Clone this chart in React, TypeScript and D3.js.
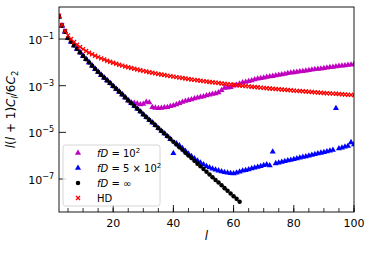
import * as d3 from "d3";

// multipole index l for each series
const ellFull = d3.range(2, 101);
const ellInf = d3.range(2, 63);

// fD = 1e2 (magenta triangles)
const fd100 = [
  0.912, 0.372, 0.204, 0.112, 0.0759, 0.0525, 0.0372, 0.0263, 0.0186, 0.0135,
  0.00977, 0.00708, 0.00525, 0.00389, 0.00288, 0.00219, 0.00166, 0.00126, 9.55e-4, 7.24e-4,
  5.5e-4, 4.17e-4, 3.09e-4, 2.34e-4, 1.91e-4, 1.82e-4, 1.74e-4, 1.58e-4, 1.66e-4, 2.0e-4,
  1.91e-4, 1.2e-4, 1.12e-4, 1.07e-4, 1.1e-4, 1.15e-4, 1.2e-4, 1.32e-4, 1.41e-4, 1.58e-4,
  1.78e-4, 2.0e-4, 2.19e-4, 2.4e-4, 2.57e-4, 2.82e-4, 3.02e-4, 3.24e-4, 3.47e-4, 3.8e-4,
  4.07e-4, 4.37e-4, 4.68e-4, 5.13e-4, 6.31e-4, 7.94e-4, 8.13e-4, 8.51e-4, 1.0e-3, 1.07e-3,
  1.2e-3, 1.38e-3, 1.45e-3, 1.55e-3, 1.66e-3, 1.86e-3, 2.0e-3, 2.09e-3, 2.19e-3, 2.34e-3,
  2.45e-3, 2.57e-3, 2.75e-3, 2.88e-3, 3.02e-3, 3.16e-3, 3.39e-3, 3.55e-3, 3.72e-3, 3.89e-3,
  4.07e-3, 4.17e-3, 4.37e-3, 4.57e-3, 4.79e-3, 5.01e-3, 5.25e-3, 5.37e-3, 5.62e-3, 5.89e-3,
  6.17e-3, 6.31e-3, 6.61e-3, 6.92e-3, 7.08e-3, 7.41e-3, 7.76e-3, 7.94e-3, 8.32e-3,
];

// fD = 5e2 (blue triangles)
const fd500 = [
  0.912, 0.372, 0.204, 0.112, 0.0759, 0.0525, 0.0372, 0.0263, 0.0186, 0.0135,
  0.00977, 0.00708, 0.00525, 0.00389, 0.00288, 0.00219, 0.00166, 0.00126, 9.55e-4, 7.24e-4,
  5.5e-4, 4.17e-4, 3.09e-4, 2.34e-4, 1.78e-4, 1.35e-4, 1.02e-4, 7.76e-5, 5.89e-5, 4.47e-5,
  3.39e-5, 2.63e-5, 2.0e-5, 1.51e-5, 1.15e-5, 8.91e-6, 6.76e-6, 5.13e-6, 1.26e-6, 3.3e-6,
  2.75e-6, 2.09e-6, 1.58e-6, 1.2e-6, 9.55e-7, 7.59e-7, 6.03e-7, 5.01e-7, 4.17e-7, 3.55e-7,
  3.09e-7, 2.75e-7, 2.51e-7, 2.29e-7, 2.09e-7, 1.95e-7, 1.86e-7, 1.78e-7, 1.74e-7, 1.86e-7,
  2.04e-7, 2.24e-7, 2.4e-7, 2.57e-7, 2.82e-7, 3.02e-7, 3.31e-7, 3.55e-7, 3.89e-7, 4.17e-7,
  3.8e-7, 1.48e-6, 4.68e-7, 5.01e-7, 5.37e-7, 5.75e-7, 6.17e-7, 6.61e-7, 7.08e-7, 7.59e-7,
  8.13e-7, 8.71e-7, 9.33e-7, 1.0e-6, 1.07e-6, 1.15e-6, 1.23e-6, 1.32e-6, 1.41e-6, 1.51e-6,
  1.62e-6, 1.74e-6, 1.07e-4, 2.04e-6, 2.19e-6, 2.4e-6, 2.63e-6, 3.72e-6, 3.02e-6,
];

// fD = infinity (black dots), l = 2..62
const fdInf = [
  0.912, 0.372, 0.204, 0.112, 0.0759, 0.0525, 0.0372, 0.0263, 0.0186, 0.0135,
  0.00977, 0.00708, 0.00525, 0.00389, 0.00288, 0.00219, 0.00166, 0.00126, 9.55e-4, 7.24e-4,
  5.5e-4, 4.17e-4, 3.09e-4, 2.34e-4, 1.78e-4, 1.35e-4, 1.02e-4, 7.76e-5, 5.89e-5, 4.47e-5,
  3.39e-5, 2.63e-5, 2.0e-5, 1.51e-5, 1.15e-5, 8.91e-6, 6.76e-6, 5.13e-6, 3.98e-6, 3.02e-6,
  2.29e-6, 1.78e-6, 1.35e-6, 1.02e-6, 7.94e-7, 6.03e-7, 4.57e-7, 3.55e-7, 2.69e-7, 2.04e-7,
  1.58e-7, 1.2e-7, 9.12e-8, 7.08e-8, 5.37e-8, 4.07e-8, 3.16e-8, 2.4e-8, 1.82e-8, 1.41e-8,
  1.07e-8,
];

// Hellings-Downs (red crosses)
const hd = [
  1.0, 0.4, 0.222, 0.143, 0.1, 0.0741, 0.0571, 0.0455, 0.037, 0.0308,
  0.026, 0.0222, 0.0192, 0.0168, 0.0148, 0.0132, 0.0118, 0.0106, 0.00957, 0.0087,
  0.00794, 0.00727, 0.00669, 0.00617, 0.00571, 0.00531, 0.00494, 0.00461, 0.00431, 0.00404,
  0.0038, 0.00357, 0.00337, 0.00318, 0.00301, 0.00285, 0.0027, 0.00257, 0.00244, 0.00233,
  0.00222, 0.00212, 0.00202, 0.00193, 0.00185, 0.00177, 0.0017, 0.00163, 0.00157, 0.00151,
  0.00145, 0.0014, 0.00135, 0.0013, 0.00125, 0.00121, 0.00117, 0.00113, 0.00109, 0.00106,
  0.00102, 9.93e-4, 9.62e-4, 9.33e-4, 9.05e-4, 8.78e-4, 8.53e-4, 8.28e-4, 8.05e-4, 7.83e-4,
  7.61e-4, 7.41e-4, 7.21e-4, 7.02e-4, 6.84e-4, 6.66e-4, 6.49e-4, 6.33e-4, 6.17e-4, 6.02e-4,
  5.88e-4, 5.74e-4, 5.6e-4, 5.47e-4, 5.35e-4, 5.23e-4, 5.11e-4, 5.0e-4, 4.89e-4, 4.78e-4,
  4.68e-4, 4.58e-4, 4.48e-4, 4.39e-4, 4.3e-4, 4.21e-4, 4.12e-4, 4.04e-4, 3.96e-4,
];

const xTicks = [20, 40, 60, 80, 100];
const xMinorTicks = d3.range(5, 101, 5);
const yTickExps = [-1, -3, -5, -7];

const W = 374;
const H = 253;
const left = 59, right = 354, top = 7, bottom = 212;
const font = "DejaVu Sans";

const MAGENTA = "#bf00bf";
const BLUE = "#0000ff";
const RED = "#ff0000";

const tri = d3.symbol(d3.symbolTriangle, 16)() as string;
const dot = d3.symbol(d3.symbolCircle, 16)() as string;

function Marker({ kind, color, x, y }: { kind: string; color: string; x: number; y: number }) {
  if (kind === "x") {
    const s = 2;
    return (
      <path
        d={`M${x - s},${y - s}L${x + s},${y + s}M${x - s},${y + s}L${x + s},${y - s}`}
        stroke={color}
        strokeWidth={1.3}
        fill="none"
      />
    );
  }
  return <path d={kind === "tri" ? tri : dot} transform={`translate(${x},${y})`} fill={color} />;
}

export default function App() {
  const x = d3.scaleLinear().domain([2, 100]).range([left, right]);
  const y = d3.scaleLog().domain([3.86e-9, 2.36]).range([bottom, top]);

  const series = [
    { ells: ellFull, vals: fd100, kind: "tri", color: MAGENTA },
    { ells: ellFull, vals: fd500, kind: "tri", color: BLUE },
    { ells: ellInf, vals: fdInf, kind: "dot", color: "#000000" },
    { ells: ellFull, vals: hd, kind: "x", color: RED },
  ];

  const legendRows = [
    { kind: "tri", color: MAGENTA, label: "m100" },
    { kind: "tri", color: BLUE, label: "m500" },
    { kind: "dot", color: "#000000", label: "inf" },
    { kind: "x", color: RED, label: "HD" },
  ];

  const renderLabel = (key: string) => {
    if (key === "m100")
      return (
        <>
          <tspan fontStyle="italic">fD</tspan>
          <tspan> = 10</tspan>
          <tspan dy={-4} fontSize={7}>2</tspan>
        </>
      );
    if (key === "m500")
      return (
        <>
          <tspan fontStyle="italic">fD</tspan>
          <tspan> = 5 × 10</tspan>
          <tspan dy={-4} fontSize={7}>2</tspan>
        </>
      );
    if (key === "inf")
      return (
        <>
          <tspan fontStyle="italic">fD</tspan>
          <tspan> = ∞</tspan>
        </>
      );
    return <tspan>HD</tspan>;
  };

  return (
    <svg
      width={W}
      height={H}
      style={{ position: "absolute", left: 0, top: 0, background: "#fff" }}
      fontFamily={font}
    >
      <defs>
        <clipPath id="plot">
          <rect x={left} y={top} width={right - left} height={bottom - top} />
        </clipPath>
      </defs>

      <g clipPath="url(#plot)">
        {series.map((s, si) => (
          <g key={si}>
            {s.vals.map((v, i) => (
              <Marker key={i} kind={s.kind} color={s.color} x={x(s.ells[i])} y={y(v)} />
            ))}
          </g>
        ))}
      </g>

      {/* spines */}
      <rect x={left} y={top} width={right - left} height={bottom - top} fill="none" stroke="#000" strokeWidth={0.9} />

      {/* x ticks, inward */}
      {xMinorTicks.map((t) => (
        <line key={"m" + t} x1={x(t)} x2={x(t)} y1={bottom} y2={bottom - 4} stroke="#000" strokeWidth={0.8} />
      ))}
      {xTicks.map((t) => (
        <g key={t}>
          <line x1={x(t)} x2={x(t)} y1={bottom} y2={bottom - 7} stroke="#000" strokeWidth={0.9} />
          <text x={x(t)} y={bottom + 15} textAnchor="middle" fontSize={11}>
            {t}
          </text>
        </g>
      ))}

      {/* y ticks, inward */}
      {yTickExps.map((e) => (
        <g key={e}>
          <line x1={left} x2={left + 7} y1={y(Math.pow(10, e))} y2={y(Math.pow(10, e))} stroke="#000" strokeWidth={0.9} />
          <text x={left - 5} y={y(Math.pow(10, e)) + 5} textAnchor="end" fontSize={11}>
            <tspan>10</tspan>
            <tspan dy={-5} fontSize={8}>{"\u2212" + Math.abs(e)}</tspan>
          </text>
        </g>
      ))}

      {/* axis labels */}
      <text x={(left + right) / 2} y={240} textAnchor="middle" fontSize={12} fontStyle="italic">
        l
      </text>
      <text transform={`translate(15,${(top + bottom) / 2}) rotate(-90)`} textAnchor="middle" fontSize={12}>
        <tspan fontStyle="italic">l</tspan>
        <tspan>(</tspan>
        <tspan fontStyle="italic">l</tspan>
        <tspan> + 1)</tspan>
        <tspan fontStyle="italic">C</tspan>
        <tspan fontStyle="italic" fontSize={8.5} dy={3}>l</tspan>
        <tspan dy={-3}>/6</tspan>
        <tspan fontStyle="italic">C</tspan>
        <tspan fontSize={8.5} dy={3}>2</tspan>
      </text>

      {/* legend */}
      <rect x={63} y={145} width={97} height={61} rx={2.5} fill="#fff" fillOpacity={0.8} stroke="#cccccc" strokeWidth={0.8} />
      {legendRows.map((r, i) => {
        const ly = 153 + i * 15;
        return (
          <g key={i}>
            <Marker kind={r.kind} color={r.color} x={78} y={ly} />
            <text x={97} y={ly + 4} fontSize={10}>
              {renderLabel(r.label)}
            </text>
          </g>
        );
      })}
    </svg>
  );
}
